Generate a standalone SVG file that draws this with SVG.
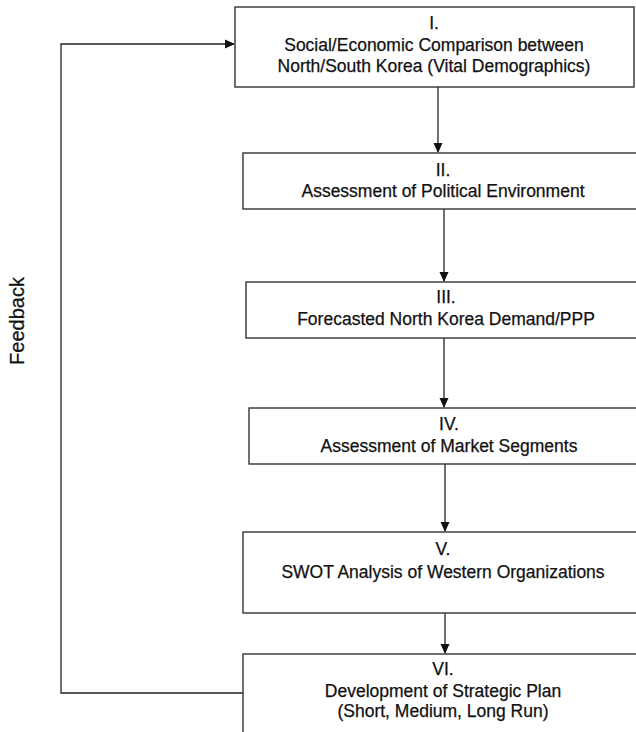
<svg xmlns="http://www.w3.org/2000/svg" width="636" height="732" viewBox="0 0 636 732">
<defs>
<style>
.box{fill:#fff;stroke:#333;stroke-width:1.4}
.t{font-family:"Liberation Sans",Arial,sans-serif;font-size:17.5px;fill:#111;stroke:#111;stroke-width:0.25;text-anchor:middle}
.c{fill:none;stroke:#222;stroke-width:1.3}
</style>
<marker id="ah" markerWidth="10" markerHeight="10" refX="9" refY="5" orient="auto" markerUnits="userSpaceOnUse">
<path d="M0,0.5 L10,5 L0,9.5 Z" fill="#111"/>
</marker>
</defs>
<rect width="636" height="732" fill="#fff"/>
<g id="connectors">
<line class="c" x1="438" y1="87" x2="438" y2="152" marker-end="url(#ah)"/>
<line class="c" x1="444" y1="209" x2="444" y2="281" marker-end="url(#ah)"/>
<line class="c" x1="444" y1="338" x2="444" y2="407" marker-end="url(#ah)"/>
<line class="c" x1="445" y1="464" x2="445" y2="531" marker-end="url(#ah)"/>
<line class="c" x1="445" y1="613" x2="445" y2="653" marker-end="url(#ah)"/>
<polyline class="c" points="243,693 61,693 61,44 234,44" marker-end="url(#ah)"/>
</g>
<text class="t" transform="translate(24,321) rotate(-90)" style="font-size:20px">Feedback</text>
<g id="n1">
<rect class="box" x="235" y="7" width="399" height="80"/>
<text class="t" x="434" y="29">I.</text>
<text class="t" x="434" y="51">Social/Economic Comparison between</text>
<text class="t" x="434" y="72">North/South Korea (Vital Demographics)</text>
</g>
<g id="n2">
<rect class="box" x="243" y="153" width="410" height="56"/>
<text class="t" x="443" y="176">II.</text>
<text class="t" x="443" y="197">Assessment of Political Environment</text>
</g>
<g id="n3">
<rect class="box" x="246" y="282" width="410" height="56"/>
<text class="t" x="446" y="303">III.</text>
<text class="t" x="446" y="325">Forecasted North Korea Demand/PPP</text>
</g>
<g id="n4">
<rect class="box" x="249" y="408" width="410" height="56"/>
<text class="t" x="449" y="430">IV.</text>
<text class="t" x="449" y="452">Assessment of Market Segments</text>
</g>
<g id="n5">
<rect class="box" x="243" y="532" width="410" height="81"/>
<text class="t" x="443" y="555">V.</text>
<text class="t" x="443" y="578">SWOT Analysis of Western Organizations</text>
</g>
<g id="n6">
<rect class="box" x="243" y="654" width="410" height="100"/>
<text class="t" x="443" y="675">VI.</text>
<text class="t" x="443" y="697">Development of Strategic Plan</text>
<text class="t" x="443" y="717">(Short, Medium, Long Run)</text>
</g>
</svg>
